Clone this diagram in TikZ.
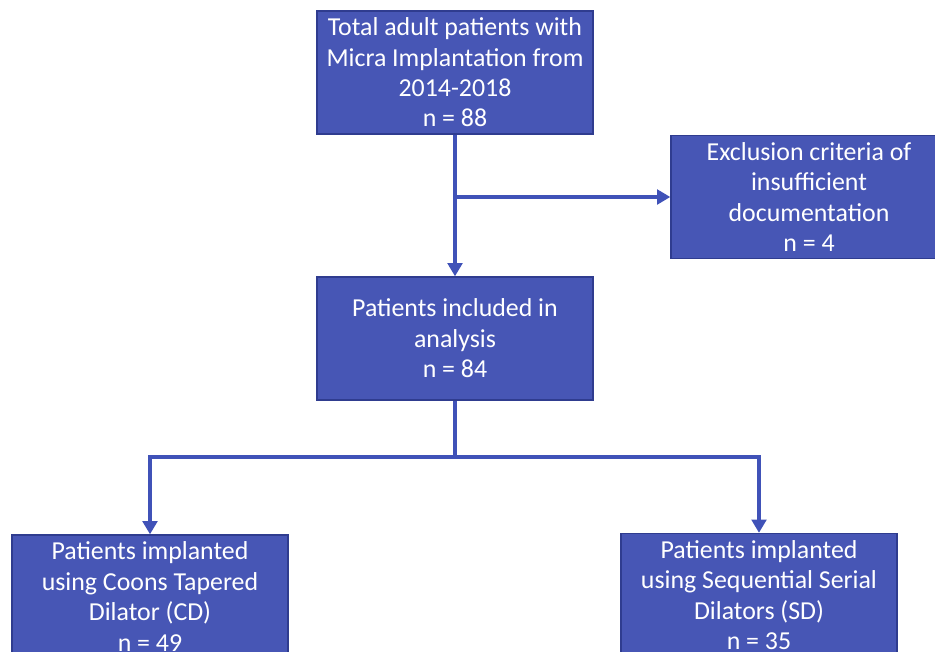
\documentclass[tikz,border=0pt]{standalone}
\usepackage{fontspec}
\setmainfont{Carlito}
\usetikzlibrary{arrows.meta}
\definecolor{boxblue}{RGB}{71,86,181}
\definecolor{boxedge}{RGB}{47,60,143}
\definecolor{lineblue}{RGB}{64,82,184}

\tikzset{
  flowbox/.style={draw=boxedge, line width=1pt, fill=boxblue, text=white,
    minimum width=207pt, minimum height=92.25pt, inner sep=0pt,
    align=center, font=\fontsize{19.4}{22.8}\selectfont},
  flowarrow/.style={draw=lineblue, line width=3pt,
    -{Triangle[width=11pt,length=10pt]}},
  flowline/.style={draw=lineblue, line width=3pt}
}

\begin{document}
\begin{tikzpicture}[x=0.75pt,y=-0.75pt]
    \useasboundingbox (0,0) rectangle (935,651);
    \clip (0,0) rectangle (935,651);
    % boxes
    \node[flowbox] (top) at (455,72.5) {Total adult patients with\\Micra Implantation from\\2014-2018\\n = 88};
    \node[flowbox] (excl) at (809,197) {Exclusion criteria of\\insufficient\\documentation\\n = 4};
    \node[flowbox] (incl) at (455,338.5) {Patients included in\\analysis\\n = 84};
    \node[flowbox] (cd) at (150,596.5) {Patients implanted\\using Coons Tapered\\Dilator (CD)\\n = 49};
    \node[flowbox] (sd) at (759,595) {Patients implanted\\using Sequential Serial\\Dilators (SD)\\n = 35};
    % connectors
    \draw[flowarrow] (top.south) -- (incl.north);
    \draw[flowarrow] (top.south |- excl.west) -- (excl.west);
    \coordinate (split) at (455,457);
    \draw[flowline] (incl.south) -- (split);
    \draw[flowarrow] (split) -| (cd.north);
    \draw[flowarrow] (split) -| (sd.north);
  \end{tikzpicture}
\end{document}
